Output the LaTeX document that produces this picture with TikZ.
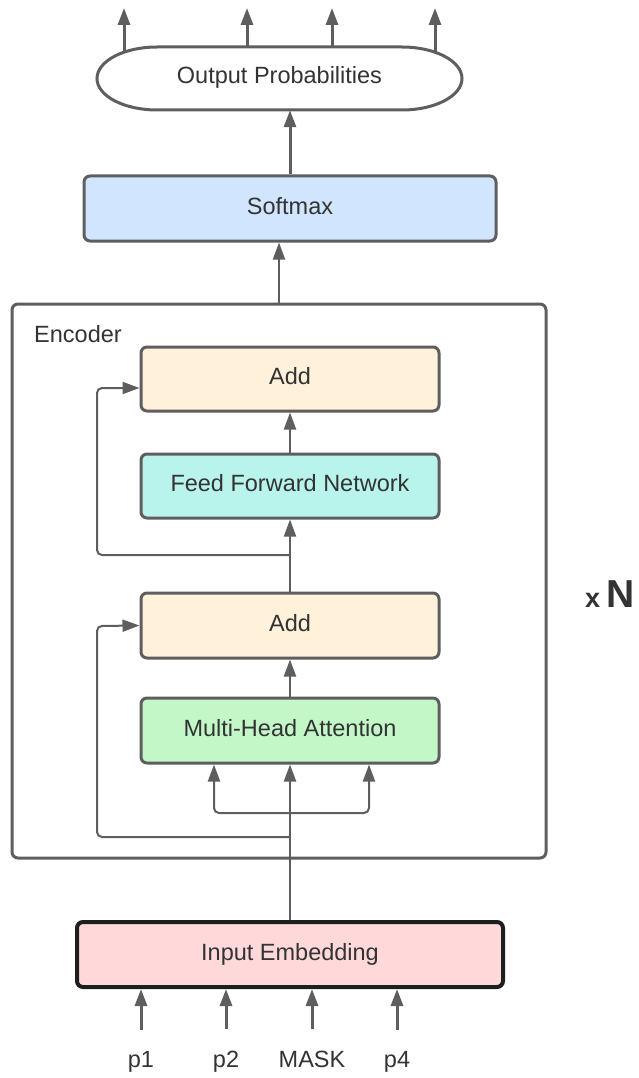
\documentclass[tikz,border=0pt]{standalone}
\usepackage{fontspec}
\setmainfont{Liberation Sans}
\usetikzlibrary{arrows.meta,calc}

\definecolor{edge}{HTML}{5E5E5E}
\definecolor{ink}{HTML}{333333}
\definecolor{softfill}{HTML}{D1E5FF}
\definecolor{addfill}{HTML}{FFF1DA}
\definecolor{ffnfill}{HTML}{B8F3EC}
\definecolor{mhafill}{HTML}{C3F7C8}
\definecolor{embfill}{HTML}{FFD9DA}
\definecolor{embedge}{HTML}{1E1E1E}

\tikzset{
  lbl/.style={text=ink, font=\fontsize{23.5}{28}\selectfont, inner sep=0pt},
  boxtext/.style={lbl, text height=17pt, text depth=6pt},
  block/.style={boxtext, draw=edge, line width=3pt, rounded corners=6pt,
    minimum width=298pt, minimum height=64pt},
  thickarr/.style={draw=edge, line width=3pt,
    -{Triangle[length=17pt,width=12pt]}},
  conn/.style={draw=edge, line width=2pt,
    -{Triangle[length=17pt,width=12pt]}},
}

\begin{document}
\begin{tikzpicture}[x=1pt,y=-1pt]
\useasboundingbox (0,0) rectangle (639,1078);

% ---- output head ----
\node[lbl, minimum width=365pt, minimum height=63pt] (out) at (279.5,78.5) {};
\foreach \xx/\nm in {124/o1,247/o2,332/o3,435/o4}{
  \coordinate (\nm) at (\xx,8);
  \draw[thickarr] (\xx,78) -- (\nm);
}
\draw[draw=edge, fill=white, line width=3pt]
  (157,47) -- (402,47)
  arc[start angle=-90, end angle=0, x radius=60, y radius=31.5]
  arc[start angle=0, end angle=90, x radius=60, y radius=31.5]
  -- (157,110)
  arc[start angle=90, end angle=180, x radius=60, y radius=31.5]
  arc[start angle=180, end angle=270, x radius=60, y radius=31.5]
  -- cycle;
\node[boxtext] at (out.center) {Output Probabilities};

\node[block, fill=softfill, minimum width=412pt, minimum height=65pt]
  (soft) at (290,208.5) {Softmax};
\draw[thickarr] (soft.north) -- (soft.north |- out.south);

% ---- encoder frame ----
\node[draw=edge, line width=3pt, rounded corners=6pt,
  minimum width=534pt, minimum height=554pt, inner sep=0pt]
  (enc) at (279,581) {};
\node[lbl, anchor=base west] (enclbl) at (34,342) {Encoder};
\draw[conn] (enc.north) -- (enc.north |- soft.south);

\node[block, fill=addfill] (add1) at (290,379) {Add};
\node[block, fill=ffnfill] (ffn) at (290,486) {Feed Forward Network};
\node[block, fill=addfill, minimum height=65pt] (add2) at (290,625.5) {Add};
\node[block, fill=mhafill, minimum height=65pt] (mha) at (290,730.5) {Multi-Head Attention};

\node[boxtext, draw=embedge, line width=4pt, rounded corners=6pt, fill=embfill,
  minimum width=426pt, minimum height=65pt] (emb) at (290,954.5) {Input Embedding};

% ---- flow through the encoder ----
\draw[conn] (emb.north) -- (mha.south);
\coordinate (split) at (290,813);
\draw[conn, rounded corners=5pt] (split) -| ([xshift=-76pt]mha.south);
\draw[conn, rounded corners=5pt] (split) -| ([xshift=79pt]mha.south);
\draw[conn] (mha.north) -- (add2.south);
\coordinate (res2) at (290,837);
\draw[conn, rounded corners=5pt] (res2) -| (97,626) -- (add2.west);
\draw[conn] (add2.north) -- (ffn.south);
\coordinate (res1) at (290,555);
\draw[conn, rounded corners=5pt] (res1) -| (97,388) -- ([yshift=-9pt]add1.west);
\draw[conn] (ffn.north) -- (add1.south);

% ---- token inputs ----
\foreach \xx/\nm/\tx in {141/p1/p1,226/p2/p2,312/pm/MASK,397/p4/p4}{
  \node[lbl, anchor=base] (\nm) at (\xx,1067) {\tx};
  \draw[thickarr] ([yshift=21pt]\nm.north) -- (\nm.north |- emb.south);
}

% ---- repetition mark ----
\node[text=ink, inner sep=0pt, anchor=base west,
  font=\fontsize{27}{30}\selectfont\bfseries] (xmark) at (585,607) {x};
\node[text=ink, inner sep=0pt, anchor=base west,
  font=\fontsize{39}{42}\selectfont\bfseries] (nmark) at (606,607) {N};
\end{tikzpicture}
\end{document}
